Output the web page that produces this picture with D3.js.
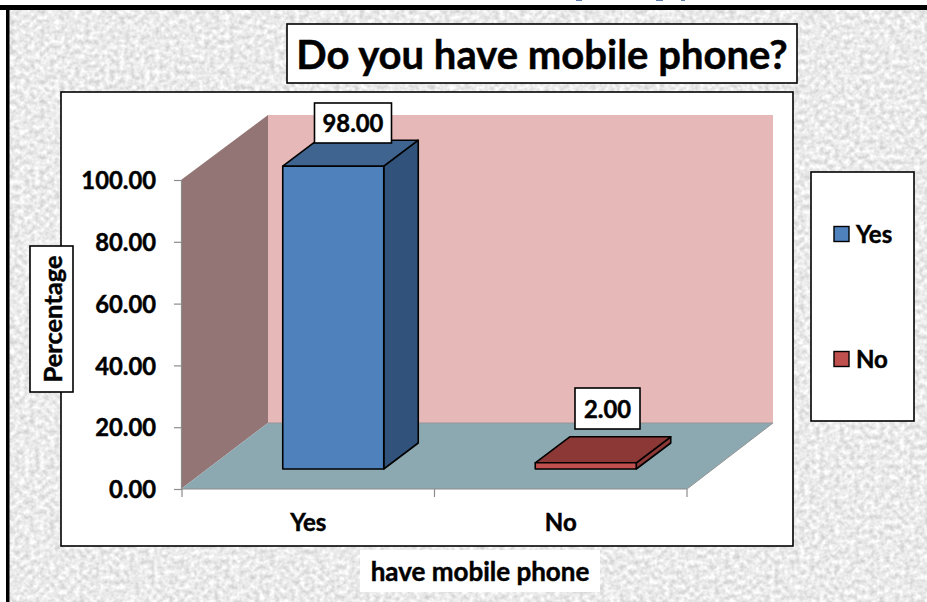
<!DOCTYPE html>
<html>
<head>
<meta charset="utf-8">
<script src="https://cdn.jsdelivr.net/npm/d3@7"></script>
<style>
  html, body { margin: 0; padding: 0; background: #fff; overflow: hidden; }
  svg { display: block; }
  text { font-family: Lato, "Open Sans", sans-serif; font-weight: 700; fill: #000; stroke: #000; stroke-width: 0.45px; }
</style>
</head>
<body>
<svg id="chart" width="927" height="602"></svg>
<script>
const categories = ["Yes", "No"];
const values = [98.00, 2.00];
const yTicks = [0, 20, 40, 60, 80, 100];
const chartTitle = "Do you have mobile phone?";
const xTitle = "have mobile phone";
const yTitle = "Percentage";
const frontColors = ["#4f81bd", "#c0504d"];
const sideColors = ["#31527a", "#8c3836"];
const topColors = ["#3f6490", "#8c3836"];

const svg = d3.select("#chart");

// Speckled paper backdrop
const defs = svg.append("defs");
const paper = defs.append("filter").attr("id", "paper")
  .attr("x", 0).attr("y", 0).attr("width", "100%").attr("height", "100%")
  .attr("color-interpolation-filters", "sRGB");
paper.append("feTurbulence").attr("type", "fractalNoise")
  .attr("baseFrequency", 0.2).attr("numOctaves", 2).attr("seed", 11);
paper.append("feColorMatrix").attr("type", "matrix")
  .attr("values", "0.3 0 0 0 0.77  0.3 0 0 0 0.77  0.3 0 0 0 0.77  0 0 0 0 1");
paper.append("feGaussianBlur").attr("stdDeviation", 0.7);

svg.append("rect").attr("width", 927).attr("height", 602).attr("fill", "#e9e9e9");
svg.append("rect").attr("width", 927).attr("height", 602).attr("filter", "url(#paper)");

// Page strip above the frame, with the tails of a line of text running off the top
svg.append("rect").attr("width", 927).attr("height", 5).attr("fill", "#fff");
svg.append("rect").attr("x", 0).attr("y", 0).attr("width", 6).attr("height", 602).attr("fill", "#fff");
const tails = [[576, 6], [656, 7], [681, 4]];
svg.selectAll("rect.tail").data(tails).join("rect").attr("class", "tail")
  .attr("x", d => d[0]).attr("y", 0).attr("width", d => d[1]).attr("height", 1).attr("fill", "#5f7ba8");

// Heavy frame
svg.append("rect").attr("x", 0).attr("y", 5).attr("width", 927).attr("height", 5).attr("fill", "#000");
svg.append("rect").attr("x", 6).attr("y", 5).attr("width", 3.5).attr("height", 597).attr("fill", "#000");

// Chart panel
svg.append("rect").attr("x", 61).attr("y", 92).attr("width", 732).attr("height", 454)
  .attr("fill", "#fff").attr("stroke", "#000").attr("stroke-width", 1.6);

// Projection of the plot box
const x0 = 182, x1 = 687, y0 = 489, y1 = 180;
const wallTop = 115;
const depth = { dx: 86, dy: -66 };
const front = { dx: 25.5, dy: -20 };
const barDepth = { dx: 34.5, dy: -26 };

const x = d3.scaleBand().domain(categories).range([x0, x1]).paddingInner(0.6).paddingOuter(0.3);
const y = d3.scaleLinear().domain([0, 100]).range([y0, y1]);
const poly = pts => pts.map(p => p.join(",")).join(" ");

// Walls and floor
svg.append("polygon").attr("fill", "#e6b8b7")
  .attr("points", poly([[x0 + depth.dx, y0 + depth.dy], [x1 + depth.dx, y0 + depth.dy], [x1 + depth.dx, wallTop], [x0 + depth.dx, wallTop]]));
svg.append("polygon").attr("fill", "#937575")
  .attr("points", poly([[x0 - 1, y0], [x0 + depth.dx, y0 + depth.dy], [x0 + depth.dx, wallTop], [x0 - 1, y1]]));
svg.append("polygon").attr("fill", "#8ca9b2")
  .attr("points", poly([[x0 - 1, y0], [x0 + depth.dx, y0 + depth.dy], [x1 + depth.dx, y0 + depth.dy], [x1, y0]]));
svg.append("path").attr("fill", "none").attr("stroke", "#969696").attr("stroke-width", 1)
  .attr("d", d3.line()([[x0 + depth.dx, y0 + depth.dy], [x1 + depth.dx, y0 + depth.dy], [x1, y0]]));

// Axes
const yAxis = svg.append("g").attr("transform", `translate(${x0 - 1},0)`)
  .call(d3.axisLeft(y).tickValues(yTicks).tickFormat(d3.format(".2f")).tickSize(7).tickPadding(18));
yAxis.selectAll("path,line").attr("stroke", "#8c8c8c").attr("stroke-width", 1.2);
yAxis.selectAll("text").attr("font-size", 23.8).attr("y", 1).style("font-family", "Lato").style("font-weight", 700).attr("fill", "#000");

const xAxisEdges = d3.scalePoint().domain([0, 1, 2]).range([x0, x1]);
const xAxis = svg.append("g").attr("transform", `translate(0,${y0})`);
xAxis.append("line").attr("x1", x0).attr("x2", x1).attr("stroke", "#8c8c8c").attr("stroke-width", 1.2);
xAxis.selectAll("line.edge").data(xAxisEdges.domain()).join("line").attr("class", "edge")
  .attr("x1", d => xAxisEdges(d)).attr("x2", d => xAxisEdges(d)).attr("y1", 0).attr("y2", 8)
  .attr("stroke", "#8c8c8c").attr("stroke-width", 1.2);
svg.selectAll("text.cat").data(categories).join("text").attr("class", "cat")
  .attr("x", d => x(d) + x.bandwidth() / 2).attr("y", 531)
  .attr("text-anchor", "middle").attr("font-size", 24).text(d => d);

// Extruded bars, each sitting a little way in from the front edge of the floor
const bars = svg.selectAll("g.bar").data(categories.map((c, i) => ({ c, v: values[i], i }))).join("g").attr("class", "bar")
  .attr("stroke", "#000").attr("stroke-width", 1.6).attr("stroke-linejoin", "round");
bars.each(function (d) {
  const g = d3.select(this);
  const l = x(d.c) + front.dx - 0.5, r = l + x.bandwidth();
  const b = y(0) + front.dy, t = y(d.v) + front.dy;
  const { dx, dy } = barDepth;
  g.append("polygon").attr("fill", sideColors[d.i])
    .attr("points", poly([[r, b], [r + dx, b + dy], [r + dx, t + dy], [r, t]]));
  g.append("polygon").attr("fill", topColors[d.i])
    .attr("points", poly([[l, t], [l + dx, t + dy], [r + dx, t + dy], [r, t]]));
  g.append("polygon").attr("fill", frontColors[d.i])
    .attr("points", poly([[l, b], [r, b], [r, t], [l, t]]));
});

// Boxed text helper
function boxed(cx, cy, w, h, text, size, strokeW, rotate) {
  const g = svg.append("g").attr("transform", `translate(${cx},${cy})` + (rotate ? ` rotate(${rotate})` : ""));
  g.append("rect").attr("x", -w / 2).attr("y", -h / 2).attr("width", w).attr("height", h)
    .attr("fill", "#fff").attr("stroke", strokeW ? "#000" : "none").attr("stroke-width", strokeW);
  g.append("text").attr("text-anchor", "middle").attr("dominant-baseline", "central")
    .attr("font-size", size).text(text);
}

// Value labels
const labelBoxes = [[353, 123, 77, 40], [607.5, 408.5, 65, 41]];
values.forEach((v, i) => boxed(labelBoxes[i][0], labelBoxes[i][1], labelBoxes[i][2], labelBoxes[i][3], v.toFixed(2), 23.8, 1.6));

// Titles
boxed(542, 53.5, 510, 59, chartTitle, 40, 1.6);
boxed(480, 571, 240, 42, xTitle, 26, 0);
boxed(51.5, 319, 146, 43, yTitle, 25.5, 1.6, -90);

// Legend
svg.append("rect").attr("x", 811).attr("y", 172).attr("width", 103).attr("height", 249)
  .attr("fill", "#fff").attr("stroke", "#000").attr("stroke-width", 1.6);
const legendY = d3.scalePoint().domain(categories).range([234, 359]);
const legend = svg.selectAll("g.legend").data(categories).join("g").attr("class", "legend")
  .attr("transform", d => `translate(834,${legendY(d)})`);
legend.append("rect").attr("x", 0).attr("y", -7.5).attr("width", 15).attr("height", 15)
  .attr("fill", (d, i) => frontColors[i]).attr("stroke", "#000").attr("stroke-width", 1.4);
legend.append("text").attr("x", 22).attr("y", -1).attr("dominant-baseline", "central").attr("font-size", 24).text(d => d);
</script>
</body>
</html>
